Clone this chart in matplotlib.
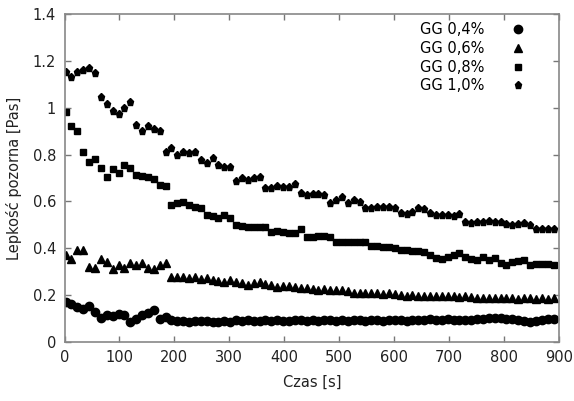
import numpy as np
import matplotlib.pyplot as plt

##################### dane

# czas pomiaru [s], 84 punkty co ~10.7 s
czas = np.linspace(2, 890, 84)

gg04 = [0.171, 0.161, 0.150, 0.140, 0.153, 0.128, 0.103, 0.114, 0.110, 0.117, 0.114, 0.083,
        0.096, 0.114, 0.124, 0.135, 0.096, 0.104,
        0.093, 0.090, 0.090, 0.085, 0.087, 0.087, 0.090, 0.085, 0.086, 0.087, 0.085, 0.093,
        0.090, 0.093, 0.090, 0.090, 0.093, 0.090, 0.093, 0.087, 0.090, 0.093, 0.093, 0.090,
        0.092, 0.090, 0.092, 0.093, 0.090, 0.092, 0.090, 0.093, 0.092, 0.090, 0.092, 0.093,
        0.090, 0.092, 0.093, 0.092, 0.090, 0.093, 0.092, 0.093, 0.095, 0.093, 0.092, 0.095,
        0.093, 0.094, 0.093, 0.092, 0.095, 0.098, 0.100, 0.101, 0.100, 0.098, 0.097, 0.093,
        0.088, 0.086, 0.090, 0.093, 0.099, 0.096]

gg06 = [0.371, 0.352, 0.392, 0.392, 0.321, 0.314, 0.352, 0.342, 0.310, 0.328, 0.314, 0.338,
        0.328, 0.335, 0.314, 0.310, 0.328, 0.335,
        0.275, 0.278, 0.278, 0.271, 0.275, 0.267, 0.271, 0.264, 0.261, 0.256, 0.264, 0.256,
        0.250, 0.242, 0.250, 0.256, 0.247, 0.242, 0.233, 0.238, 0.238, 0.235, 0.228, 0.228,
        0.225, 0.222, 0.225, 0.222, 0.220, 0.222, 0.218,
        0.210, 0.207, 0.210, 0.207, 0.208, 0.205, 0.207, 0.205,
        0.198, 0.196, 0.198, 0.196, 0.195, 0.197, 0.195, 0.196, 0.194, 0.195, 0.193, 0.194, 0.192,
        0.187, 0.186, 0.187, 0.185, 0.186, 0.185, 0.186, 0.184, 0.185, 0.186, 0.184, 0.185,
        0.184, 0.186]

gg08 = [0.982, 0.922, 0.901, 0.811, 0.770, 0.781, 0.744, 0.705, 0.738, 0.723, 0.755, 0.741,
        0.713, 0.708, 0.703, 0.694, 0.670, 0.666,
        0.584, 0.592, 0.599, 0.584, 0.575, 0.570, 0.542, 0.537, 0.528, 0.542, 0.528, 0.499,
        0.495, 0.489, 0.491, 0.489, 0.489, 0.470, 0.475, 0.468, 0.466, 0.463, 0.481, 0.446,
        0.449, 0.452,
        0.450, 0.447, 0.428, 0.428, 0.428, 0.428, 0.425, 0.425, 0.408, 0.408, 0.405, 0.405,
        0.400, 0.390, 0.390, 0.388, 0.388, 0.385, 0.372,
        0.357, 0.354, 0.363, 0.371, 0.381, 0.363, 0.354, 0.349, 0.363, 0.349, 0.357, 0.338,
        0.328, 0.342, 0.346, 0.349, 0.328, 0.332, 0.332, 0.332, 0.328]

gg10 = [1.155, 1.130, 1.155, 1.160, 1.170, 1.150,
        1.045, 1.015, 0.985, 0.975, 1.000, 1.025,
        0.925, 0.900, 0.920, 0.910, 0.900,
        0.810, 0.830, 0.800, 0.810, 0.805, 0.810,
        0.775, 0.765, 0.785, 0.755, 0.745, 0.745,
        0.685, 0.700, 0.690, 0.700, 0.705,
        0.655, 0.655, 0.665, 0.660, 0.660, 0.675,
        0.635, 0.627, 0.630, 0.630, 0.628,
        0.594, 0.606, 0.620, 0.592, 0.606, 0.599,
        0.570, 0.570, 0.577, 0.577, 0.577, 0.573,
        0.549, 0.546, 0.556, 0.570, 0.566, 0.549,
        0.542, 0.542, 0.542, 0.537, 0.545,
        0.513, 0.509, 0.510, 0.513, 0.516, 0.510, 0.510, 0.503, 0.499, 0.502, 0.506, 0.499,
        0.481, 0.481, 0.481, 0.482]

etykiety = ["GG 0,4%", "GG 0,6%", "GG 0,8%", "GG 1,0%"]
xticks = [0, 100, 200, 300, 400, 500, 600, 700, 800, 900]
yticks = [0, 0.2, 0.4, 0.6, 0.8, 1.0, 1.2, 1.4]
yticklabels = ["0", "0.2", "0.4", "0.6", "0.8", "1", "1.2", "1.4"]

##################### wykres

plt.rcParams['font.family'] = ['DejaVu Sans']
fig = plt.figure(figsize=(5.74, 4.01), dpi=100)
ax = fig.add_axes([0.1124, 0.1479, 0.8615, 0.8167])

ax.plot(czas, gg04, 'o', color='black', markersize=6.0, label=etykiety[0])
ax.plot(czas, gg06, '^', color='black', markersize=6.2, label=etykiety[1])
ax.plot(czas, gg08, 's', color='black', markersize=5.0, label=etykiety[2])
ax.plot(czas, gg10, 'p', color='black', markersize=5.2, label=etykiety[3])

ax.set_xlim(0, 900)
ax.set_ylim(0, 1.4)
ax.set_xticks(xticks)
ax.set_yticks(yticks)
ax.set_yticklabels(yticklabels)
ax.tick_params(direction='in', top=True, right=True, length=4, width=1,
               color='#777777', labelsize=10.5, labelcolor='#222222', pad=6)
for s in ax.spines.values():
    s.set_color('#888888')
    s.set_linewidth(1.2)

ax.set_xlabel("Czas [s]", fontsize=10.5, color='#222222', labelpad=7)
ax.set_ylabel("Lepkość pozorna [Pas]", fontsize=10.5, color='#222222', labelpad=8)

ax.legend(loc='upper right', bbox_to_anchor=(0.931, 0.975), frameon=False,
          markerfirst=False, fontsize=10.5, handlelength=1.0, handletextpad=1.8,
          labelspacing=0.25, borderpad=0, borderaxespad=0)

fig.savefig("out.png", dpi=100)
